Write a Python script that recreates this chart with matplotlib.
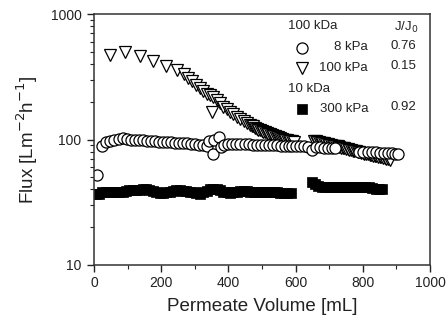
import matplotlib
matplotlib.use("Agg")
import matplotlib.pyplot as plt
from matplotlib.lines import Line2D
from matplotlib.ticker import FixedLocator, NullFormatter, LogLocator

plt.rcParams['font.family'] = ['Liberation Sans', 'DejaVu Sans']

# 100 kDa, 8 kPa (open circles)
circ_x = [8, 23, 36, 49, 61, 73, 85, 97, 109, 121, 133, 145, 157, 169, 181, 193, 205, 217,
          229, 241, 253, 265, 277, 289, 301, 313, 325, 337, 343, 355, 358, 372, 378,
          388, 400, 412, 424, 436, 448, 460, 472, 484, 496, 508, 520, 532, 544, 556, 568,
          580, 590, 602, 614, 626, 638, 648, 660, 672, 684, 696, 708, 717,
          790, 802, 814, 826, 838, 850, 862, 874, 886, 896, 906]
circ_y = [52, 89, 95, 98, 100, 101, 102, 101, 100, 100, 99, 99, 98, 97, 97, 96, 96, 95,
          95, 94, 94, 93, 93, 92, 92, 91, 90, 89, 97, 77, 100, 104, 87,
          91, 92, 92, 92, 92, 92, 92, 91, 91, 91, 91, 90, 90, 90, 89, 89,
          89, 88, 88, 88, 88, 87, 83, 87, 87, 86, 86, 86, 85,
          80, 80, 79, 79, 79, 78, 78, 78, 78, 77, 76.5]

# 100 kDa, 100 kPa (open triangles)
tri_x = [48, 92, 137, 177, 213, 246, 268, 281, 293, 304, 315, 325, 335, 345, 350, 355, 365,
         375, 385, 395, 405, 415, 425, 435, 445, 455,
         464, 469, 474, 479, 484, 489, 494, 499, 504, 509, 514, 519, 524, 529, 534, 539,
         544, 549, 554, 559, 564, 569, 574, 579, 584, 589, 594,
         655, 660, 665, 670, 675, 680, 685, 690, 695, 700, 705, 710, 715, 720, 725, 730,
         735, 740, 745, 750, 755, 760, 765, 770, 775, 780, 785, 790, 795, 800, 805, 810,
         815, 820, 825, 830, 835, 840, 845, 850, 855, 860, 865, 870, 875, 880]
tri_y = [471, 501, 463, 422, 387, 358, 330, 307, 290, 272, 256, 244, 232, 225, 167, 219, 206,
         194, 183, 175, 167, 159, 152, 146, 140, 135,
         131, 129, 127, 124, 122, 120, 119, 117, 115, 114, 112, 111, 110, 109, 107, 106,
         105, 104, 102, 101, 100, 99, 99, 98, 97, 97, 96,
         97, 96.5, 96, 95, 94, 93.5, 93, 92.5, 92, 91, 90, 89.5, 89, 88.5, 88, 87,
         86, 85.5, 85, 84.5, 84, 83, 82, 81.5, 81, 80.5, 80, 79, 78, 77.5, 77, 76.5,
         76, 75.5, 75, 74.5, 74, 73.5, 73, 72.5, 72, 71.5, 71, 70.5, 70, 69]

# 10 kDa, 300 kPa (filled squares)
sq_x = [5, 15, 25, 35, 45, 55, 65, 75, 85, 95, 105, 115, 125, 135, 145, 155, 165, 175,
        185, 195, 205, 215, 225, 235, 245, 255, 265, 275, 285, 295, 305, 315, 325, 335,
        345, 355, 365, 375, 385, 395, 405, 415, 425, 435, 445, 455, 465, 475, 485, 495,
        505, 515, 525, 535, 545, 555, 565, 575, 585,
        648, 658, 668, 678, 688, 698, 708, 718, 728, 738, 748, 758, 768, 778, 788, 798,
        808, 818, 828, 838, 848, 858]
sq_y = [36.5, 37, 38, 38.5, 38.5, 38.5, 38, 38, 38.5, 39, 39.5, 39.5, 39.5, 39.5, 40, 40,
        39.5, 39, 38, 37.5, 37.5, 38, 38.5, 39, 39.5, 39.5, 39, 39, 38.5, 38, 37.5, 37, 38,
        39, 40, 40.5, 40, 39.5, 38.5, 38, 37.5, 38, 38.5, 39, 39, 39, 38.5, 38.5, 38.5, 38.5,
        38.5, 38, 38, 38, 38, 37.5, 37.5, 37.5, 37.5,
        45.5, 44, 42.5, 42, 42, 42, 42, 41.5, 42, 42, 42, 41.5, 42, 42, 41.5, 42, 41.5, 41.5,
        41, 40.5, 40.5, 40]

x_ticks = [0, 200, 400, 600, 800, 1000]
y_ticks = [10, 100, 1000]

W, H = 448, 324
fig = plt.figure(figsize=(W / 100, H / 100), dpi=100)
ax = fig.add_axes([94 / W, 59 / H, 336 / W, 251 / H])

mew = 0.9
ms_c, ms_t, ms_s = 8.0, 8.5, 6.6
ax.plot(sq_x, sq_y, ls='none', marker='s', ms=ms_s, mfc='black', mec='black', mew=0.5)
ax.plot(tri_x, tri_y, ls='none', marker='v', ms=ms_t, mfc='white', mec='black', mew=mew)
ax.plot(circ_x, circ_y, ls='none', marker='o', ms=ms_c, mfc='white', mec='black', mew=mew)

ax.set_yscale('log')
ax.set_xlim(0, 1000)
ax.set_ylim(10, 1000)
ax.set_xticks(x_ticks)
ax.set_xticklabels([str(t) for t in x_ticks])
ax.xaxis.set_minor_locator(FixedLocator([100, 300, 500, 700, 900]))
ax.set_yticks(y_ticks)
ax.set_yticklabels([str(t) for t in y_ticks])
ax.yaxis.set_minor_locator(LogLocator(base=10, subs=range(2, 10)))
ax.yaxis.set_minor_formatter(NullFormatter())

ax.tick_params(which='major', direction='out', length=5, width=1, labelsize=10, pad=3,
               color='#222222', labelcolor='#222222')
ax.tick_params(which='minor', direction='out', length=3, width=0.8, color='#222222')
ax.tick_params(axis='y', which='major', pad=4)
for s in ax.spines.values():
    s.set_linewidth(1.1)
    s.set_color('#333333')

ax.set_xlabel('Permeate Volume [mL]', fontsize=13.5, labelpad=6, color='#222222')
ax.set_ylabel('Flux [Lm$^{-2}$h$^{-1}$]', fontsize=13.5, labelpad=8, color='#222222')

def fx(px):
    return px / W

def fy(py):
    return 1 - py / H

fs = 9.5
tc = '#222222'
fig.text(fx(288), fy(26), '100 kDa', fontsize=fs, va='center', ha='left', color=tc)
fig.text(fx(394), fy(27), 'J/J$_0$', fontsize=fs, va='center', ha='left', color=tc)
fig.text(fx(368), fy(47.5), '8 kPa', fontsize=fs, va='center', ha='right', color=tc)
fig.text(fx(390), fy(46), '0.76', fontsize=fs, va='center', ha='left', color=tc)
fig.text(fx(368), fy(68.5), '100 kPa', fontsize=fs, va='center', ha='right', color=tc)
fig.text(fx(390), fy(66), '0.15', fontsize=fs, va='center', ha='left', color=tc)
fig.text(fx(288), fy(88.5), '10 kDa', fontsize=fs, va='center', ha='left', color=tc)
fig.text(fx(368), fy(109), '300 kPa', fontsize=fs, va='center', ha='right', color=tc)
fig.text(fx(390), fy(107.5), '0.92', fontsize=fs, va='center', ha='left', color=tc)

fig.add_artist(Line2D([fx(302)], [fy(47.5)], transform=fig.transFigure, ls='none',
                      marker='o', ms=ms_c, mfc='white', mec='black', mew=mew))
fig.add_artist(Line2D([fx(302)], [fy(68)], transform=fig.transFigure, ls='none',
                      marker='v', ms=ms_t, mfc='white', mec='black', mew=mew))
fig.add_artist(Line2D([fx(302)], [fy(109)], transform=fig.transFigure, ls='none',
                      marker='s', ms=ms_s, mfc='black', mec='black', mew=0.5))

fig.savefig('out.png', dpi=100)
